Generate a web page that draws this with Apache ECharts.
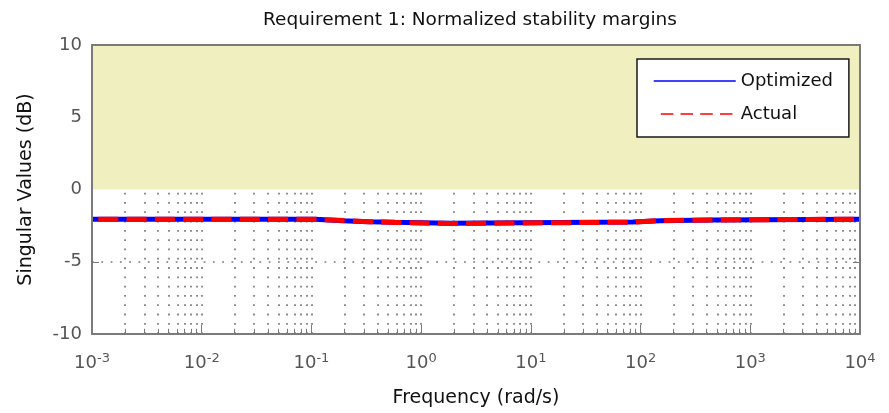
<!DOCTYPE html>
<html><head><meta charset="utf-8">
<script src="https://cdn.jsdelivr.net/npm/echarts@6/dist/echarts.min.js"></script>
<style>html,body{margin:0;padding:0;background:#fff}#chart{width:889px;height:413px}</style>
</head><body><div id="chart"></div>
<script>
// ---- chart data ----
const titleText = 'Requirement 1: Normalized stability margins';
const xAxisName = 'Frequency (rad/s)';
const yAxisName = 'Singular Values (dB)';
const seriesNames = ['Optimized', 'Actual'];
// step points (value holds until next frequency)
const frequency = [0.001, 0.108, 0.194, 0.33, 0.58, 1.84, 85, 150, 460, 10000];
const optimized = [-2.06, -2.16, -2.23, -2.27, -2.34, -2.25, -2.16, -2.11, -2.06, -2.06];
const actual    = [-2.06, -2.15, -2.23, -2.28, -2.36, -2.26, -2.15, -2.11, -2.05, -2.05];
const xRange = [0.001, 10000];
const yTickValues = [-10, -5, 0, 5, 10];
const decadeExponents = [-3, -2, -1, 0, 1, 2, 3, 4];
const boundRange = [0, 10]; // shaded forbidden region

// ---- build helpers ----
const FONT = '"DejaVu Sans", sans-serif';
const GRID_C = '#7a7a7a';
const AXIS_C = '#7a7a7a';
const yMin = yTickValues[0], yMax = yTickValues[yTickValues.length - 1];
const minorX = [], majorX = [];
decadeExponents.slice(0, -1).forEach(d => {
  for (let k = 2; k <= 9; k++) minorX.push(k * Math.pow(10, d));
  if (d > decadeExponents[0]) majorX.push(Math.pow(10, d));
});
const dotted = { color: GRID_C, width: 1.7, type: [1.8, 7.5] };
const gridLines = [];
minorX.concat(majorX).forEach(x => gridLines.push([{ coord: [x, yMin] }, { coord: [x, boundRange[0]] }]));
gridLines.push([{ coord: [xRange[0], -5] }, { coord: [xRange[1], -5] }]);
// small inside ticks (minor x ticks and the -5 y ticks)
const tickLines = [];
minorX.forEach(x => tickLines.push([{ coord: [x, yMin] }, { coord: [x, yMin + 0.36] }]));
const yTickLen = 7 / 109.7; // in decades
tickLines.push([{ coord: [xRange[0], -5] }, { coord: [xRange[0] * Math.pow(10, yTickLen), -5] }]);
tickLines.push([{ coord: [xRange[1] / Math.pow(10, yTickLen), -5] }, { coord: [xRange[1], -5] }]);

const pairs = arr => frequency.map((f, i) => [f, arr[i]]);

const chart = echarts.init(document.getElementById('chart'), null, { renderer: 'canvas' });
const labelColor = '#555';
const noSymbol = { color: 'rgba(0,0,0,0)', borderWidth: 0, opacity: 0 };
chart.setOption({
  animation: false,
  backgroundColor: '#fff',
  title: {
    text: titleText, left: 263, top: 11, padding: 0,
    textStyle: { fontFamily: FONT, fontSize: 18.5, fontWeight: 'normal', color: '#111' }
  },
  grid: { left: 92, right: 29, top: 45, bottom: 79 },
  legend: {
    left: 637, top: 59, orient: 'vertical',
    padding: [13, 16, 14, 16], itemGap: 15, itemWidth: 82, itemHeight: 14, itemTextGap: 5,
    backgroundColor: '#fff', borderColor: '#1a1a1a', borderWidth: 1.5, borderRadius: 0,
    textStyle: { fontFamily: FONT, fontSize: 18, color: '#111' },
    selectedMode: false,
    data: [
      { name: seriesNames[0], itemStyle: noSymbol, lineStyle: { width: 1.5, type: 'solid' } },
      { name: seriesNames[1], itemStyle: noSymbol, lineStyle: { width: 1.5, type: [12.5, 7.2], dashOffset: 12.6 } }
    ]
  },
  xAxis: [{
    type: 'log', logBase: 10, min: xRange[0], max: xRange[1], splitNumber: 7, z: 6,
    position: 'bottom',
    name: xAxisName, nameLocation: 'middle', nameGap: 55,
    nameTextStyle: { fontFamily: FONT, fontSize: 19, color: '#111' },
    axisLine: { show: true, onZero: false, lineStyle: { color: AXIS_C, width: 2 } },
    axisTick: { show: true, inside: true, length: 9, lineStyle: { color: AXIS_C, width: 1 } },
    splitLine: { show: false },
    axisLabel: {
      margin: 18, color: labelColor,
      formatter: v => '{b|10}{e|' + Math.round(Math.log10(v)) + '}',
      rich: {
        b: { fontFamily: FONT, fontSize: 18, color: labelColor, lineHeight: 20, verticalAlign: 'bottom', padding: [11, 0, 0, 0] },
        e: { fontFamily: FONT, fontSize: 13, color: labelColor, lineHeight: 14, verticalAlign: 'top' }
      }
    }
  }, {
    type: 'log', logBase: 10, min: xRange[0], max: xRange[1], position: 'top', z: 6,
    axisLine: { show: true, onZero: false, lineStyle: { color: AXIS_C, width: 2 } },
    axisTick: { show: false }, axisLabel: { show: false }, splitLine: { show: false }
  }],
  yAxis: [{
    type: 'value', min: yMin, max: yMax, interval: 5, z: 6, position: 'left',
    name: yAxisName, nameLocation: 'middle', nameGap: 56,
    nameTextStyle: { fontFamily: FONT, fontSize: 19, color: '#111' },
    axisLine: { show: true, onZero: false, lineStyle: { color: AXIS_C, width: 2 } },
    axisTick: { show: false }, splitLine: { show: false },
    axisLabel: { margin: 10, fontFamily: FONT, fontSize: 18, color: labelColor }
  }, {
    type: 'value', min: yMin, max: yMax, interval: 5, z: 6, position: 'right',
    axisLine: { show: true, onZero: false, lineStyle: { color: AXIS_C, width: 2 } },
    axisTick: { show: false }, axisLabel: { show: false }, splitLine: { show: false }
  }],
  series: [{
    name: '_grid', type: 'line', data: [], z: 1, silent: true,
    markLine: { z: 1, silent: true, symbol: 'none', label: { show: false }, emphasis: { disabled: true },
      lineStyle: dotted, data: gridLines },
    markArea: { z: 1, silent: true, itemStyle: { color: '#f0efc0' }, emphasis: { disabled: true },
      data: [[{ coord: [xRange[0], boundRange[0]] }, { coord: [xRange[1], boundRange[1]] }]] }
  }, {
    name: '_ticks', type: 'line', data: [], z: 1, silent: true,
    markLine: { z: 1, silent: true, symbol: 'none', label: { show: false }, emphasis: { disabled: true },
      lineStyle: { color: AXIS_C, width: 1, type: 'solid' }, data: tickLines }
  }, {
    name: seriesNames[0], type: 'line', step: 'end', z: 4, showSymbol: false, symbol: 'none',
    data: pairs(optimized), color: '#0000ff',
    lineStyle: { color: '#0000ff', width: 5 }
  }, {
    name: seriesNames[1], type: 'line', step: 'end', z: 5, showSymbol: false, symbol: 'none',
    data: pairs(actual), color: '#ff0000',
    lineStyle: { color: '#ff0000', width: 5, type: [20, 8.3], dashOffset: 22 }
  }]
});
</script></body></html>
